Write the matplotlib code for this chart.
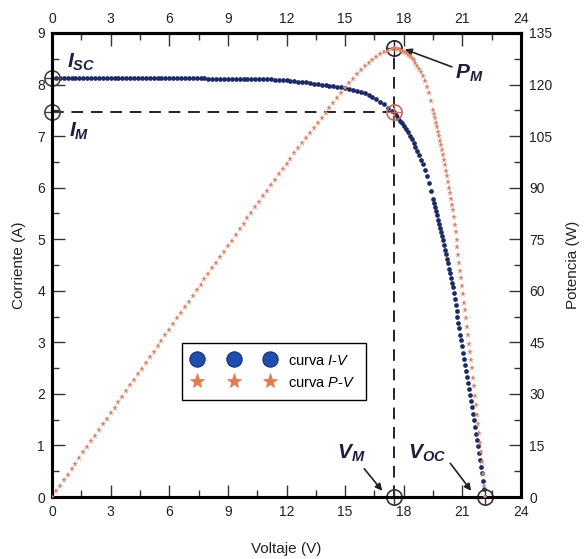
import matplotlib
matplotlib.use("Agg")
import matplotlib.pyplot as plt
from matplotlib.lines import Line2D
from matplotlib.ticker import MultipleLocator
import numpy as np

plt.rcParams['font.family'] = ['Liberation Sans', 'DejaVu Sans']
plt.rcParams['mathtext.fontset'] = 'custom'
plt.rcParams['mathtext.rm'] = 'Liberation Sans'
plt.rcParams['mathtext.it'] = 'Liberation Sans:italic'
plt.rcParams['mathtext.bf'] = 'Liberation Sans:italic:bold'

# ---------------- data ----------------
volt_flat = [0.0, 0.2, 0.4, 0.6, 0.8, 1.0, 1.2, 1.4, 1.6, 1.8,
             2.0, 2.2, 2.4, 2.6, 2.8, 3.0, 3.2, 3.4, 3.6, 3.8,
             4.0, 4.2, 4.4, 4.6, 4.8, 5.0, 5.2, 5.4, 5.6, 5.8,
             6.0, 6.2, 6.4, 6.6, 6.8, 7.0, 7.2, 7.4, 7.6, 7.8,
             8.0, 8.2, 8.4, 8.6, 8.8, 9.0, 9.2, 9.4, 9.6, 9.8,
             10.0, 10.2, 10.4, 10.6, 10.8, 11.0, 11.2, 11.4, 11.6, 11.8,
             12.0, 12.2, 12.4, 12.6, 12.8, 13.0, 13.2, 13.4, 13.6, 13.8,
             14.0, 14.2, 14.4, 14.6, 14.8, 15.0, 15.2, 15.4, 15.6, 15.8,
             16.0, 16.2, 16.4, 16.6, 16.8, 17.0, 17.2, 17.4]
curr_flat = [8.12, 8.12, 8.12, 8.12, 8.12, 8.12, 8.12, 8.12, 8.12, 8.12,
             8.12, 8.12, 8.12, 8.12, 8.12, 8.12, 8.12, 8.12, 8.12, 8.12,
             8.12, 8.12, 8.12, 8.12, 8.12, 8.12, 8.12, 8.12, 8.12, 8.12,
             8.12, 8.12, 8.12, 8.12, 8.12, 8.12, 8.12, 8.12, 8.12, 8.12,
             8.11, 8.11, 8.11, 8.11, 8.11, 8.11, 8.11, 8.11, 8.11, 8.11,
             8.11, 8.11, 8.11, 8.11, 8.11, 8.10, 8.10, 8.09, 8.09, 8.08,
             8.08, 8.07, 8.06, 8.05, 8.05, 8.04, 8.03, 8.02, 8.01, 8.00,
             7.99, 7.98, 7.97, 7.96, 7.95, 7.94, 7.92, 7.90, 7.88, 7.86,
             7.84, 7.80, 7.76, 7.72, 7.67, 7.62, 7.55, 7.49]

volt_knee = [17.5, 17.6, 17.7, 17.8, 17.9, 18.0, 18.1, 18.2, 18.3, 18.4,
             18.5, 18.6, 18.7, 18.8, 18.9, 19.0, 19.1, 19.2, 19.3, 19.4]
curr_knee = [7.46, 7.41, 7.36, 7.30, 7.25, 7.19, 7.13, 7.07, 7.01, 6.94,
             6.87, 6.79, 6.71, 6.63, 6.54, 6.45, 6.34, 6.22, 6.09, 5.94]

volt_drop = [19.50, 19.55, 19.60, 19.65, 19.70, 19.75, 19.80, 19.85, 19.90, 19.95,
             20.00, 20.05, 20.10, 20.15, 20.20, 20.25, 20.30, 20.35, 20.40, 20.45,
             20.50, 20.55, 20.60, 20.65, 20.70, 20.75, 20.80, 20.85, 20.90, 20.95,
             21.00, 21.05, 21.10, 21.15, 21.20, 21.25, 21.30, 21.35, 21.40, 21.45,
             21.50, 21.55, 21.60, 21.65, 21.70, 21.75, 21.80, 21.85, 21.90, 21.95,
             22.00, 22.05, 22.10, 22.15]
curr_drop = [5.78, 5.70, 5.62, 5.54, 5.46, 5.38, 5.30, 5.22, 5.14, 5.06,
             4.98, 4.89, 4.80, 4.71, 4.62, 4.53, 4.43, 4.34, 4.25, 4.16,
             4.07, 3.96, 3.84, 3.73, 3.61, 3.50, 3.38, 3.27, 3.15, 3.04,
             2.92, 2.80, 2.68, 2.57, 2.45, 2.33, 2.21, 2.09, 1.97, 1.86,
             1.74, 1.61, 1.49, 1.36, 1.23, 1.10, 0.98, 0.85, 0.72, 0.59,
             0.46, 0.31, 0.15, 0.00]

# characteristic points
i_sc = 8.12
v_m = 17.5
i_m = 7.46
v_oc = 22.15

x_ticks = [0, 3, 6, 9, 12, 15, 18, 21, 24]
i_ticks = [0, 1, 2, 3, 4, 5, 6, 7, 8, 9]
p_ticks = [0, 15, 30, 45, 60, 75, 90, 105, 120, 135]

voltage = np.array(volt_flat + volt_knee + volt_drop)
current = np.array(curr_flat + curr_knee + curr_drop)
power = voltage * current
p_m = v_m * i_m
w_per_a = p_ticks[-1] / i_ticks[-1]

# ---------------- figure ----------------
navy = '#1b2a66'
salmon = '#d8866c'
dark = '#222222'

fig = plt.figure(figsize=(5.85, 5.59), dpi=100)
ax = fig.add_axes([0.0889, 0.1109, 0.8017, 0.8301])
ax2 = ax.twinx()

ax.set_xlim(0, 24)
ax.set_ylim(0, 9)
ax2.set_ylim(0, 135)

ax.plot(voltage, current, linestyle='none', marker='o', markersize=3.4,
        color=navy, markeredgewidth=0, zorder=3)
ax2.plot(voltage, power, linestyle='none', marker='*', markersize=5.0,
         color=salmon, markeredgewidth=0, zorder=3)

# dashed guide lines
ax.plot([0, v_m], [i_m, i_m], color=dark, lw=1.4, dashes=(6, 4), zorder=2)
ax.plot([v_m, v_m], [0, p_m / w_per_a], color=dark, lw=1.4, dashes=(6, 4), zorder=2)

# circled-cross markers
def circ(x, y, c):
    ax.plot([x], [y], marker='o', markersize=11, fillstyle='none',
            markeredgecolor=c, markeredgewidth=1.2, clip_on=False, zorder=5)
    ax.plot([x], [y], marker='+', markersize=11, markeredgecolor=c,
            markeredgewidth=1.0, clip_on=False, zorder=5)

circ(0, i_sc, '#444444')
circ(0, i_m, '#444444')
circ(v_m, i_m, '#c0705a')
circ(v_m, p_m / w_per_a, '#222222')
circ(v_m, 0, '#333333')
circ(v_oc, 0, '#333333')

# annotations
lab_c = '#1a1f3d'
ax.text(0.75, 8.43, r'$\mathbf{I}_{\mathbf{SC}}$', fontsize=15, color=lab_c,
        ha='left', va='center')
ax.text(0.85, 7.1, r'$\mathbf{I}_{\mathbf{M}}$', fontsize=15, color=lab_c,
        ha='left', va='center')
ax.annotate(r'$\mathbf{P}_{\mathbf{M}}$', xy=(v_m + 0.55, p_m / w_per_a - 0.02),
            xytext=(20.6, 8.22), fontsize=15, color=lab_c, ha='left', va='center',
            arrowprops=dict(arrowstyle='-|>', color=dark, lw=1.2, mutation_scale=10,
                            shrinkA=0, shrinkB=0))
ax.annotate(r'$\mathbf{V}_{\mathbf{M}}$', xy=(v_m - 0.6, 0.12),
            xytext=(14.6, 0.85), fontsize=15, color=lab_c, ha='left', va='center',
            arrowprops=dict(arrowstyle='-|>', color=dark, lw=1.2, mutation_scale=10,
                            shrinkA=2, shrinkB=0))
ax.annotate(r'$\mathbf{V}_{\mathbf{OC}}$', xy=(v_oc - 0.7, 0.12),
            xytext=(18.2, 0.85), fontsize=15, color=lab_c, ha='left', va='center',
            arrowprops=dict(arrowstyle='-|>', color=dark, lw=1.2, mutation_scale=10,
                            shrinkA=2, shrinkB=0, relpos=(1.0, 0.3)))

# axes styling
sec = ax.secondary_xaxis('top')
for a in (ax, ax2):
    for s in a.spines.values():
        s.set_linewidth(2.2)
        s.set_color('black')
sec.spines['top'].set_linewidth(2.2)

ax.set_xticks(x_ticks)
ax.set_yticks(i_ticks)
ax2.set_yticks(p_ticks)
sec.set_xticks(x_ticks)
ax.xaxis.set_minor_locator(MultipleLocator(1.5))
ax.yaxis.set_minor_locator(MultipleLocator(0.5))
ax2.yaxis.set_minor_locator(MultipleLocator(7.5))
sec.xaxis.set_minor_locator(MultipleLocator(1.5))

for a, axis in ((ax, 'both'), (ax2, 'y'), (sec, 'x')):
    a.tick_params(axis=axis, which='major', direction='in', length=9, width=1.0,
                  labelsize=10, colors='#333333', labelcolor='#222222')
    a.tick_params(axis=axis, which='minor', direction='in', length=5, width=1.0,
                  colors='#333333')
ax.tick_params(axis='x', pad=6)
ax.tick_params(axis='y', pad=5)
ax2.tick_params(axis='y', pad=6)
sec.tick_params(axis='x', pad=5)

ax.set_xlabel('Voltaje (V)', fontsize=11, labelpad=16, color='#222222')
ax.set_ylabel('Corriente (A)', fontsize=11, labelpad=8, color='#222222')
ax2.set_ylabel('Potencia (W)', fontsize=11, labelpad=10, color='#222222')

# legend
h1 = Line2D([], [], linestyle='none', marker='o', markersize=11,
            markerfacecolor='#1e4fb0', markeredgecolor='#172f70', markeredgewidth=0.8)
h2 = Line2D([], [], linestyle='none', marker='*', markersize=11,
            markerfacecolor='#e07a4f', markeredgecolor='#e07a4f', markeredgewidth=0.5)
leg = ax.legend([h1, h2], [r'curva $\mathit{I}$-$\mathit{V}$', r'curva $\mathit{P}$-$\mathit{V}$'],
                numpoints=3, handlelength=5.6, fontsize=10.5,
                loc='lower left', bbox_to_anchor=(0.277, 0.208), borderaxespad=0,
                fancybox=False, framealpha=1, edgecolor='black',
                borderpad=0.75, labelspacing=0.55, handletextpad=0.9)
leg.get_frame().set_linewidth(1.0)

fig.savefig('out.png', dpi=100)
